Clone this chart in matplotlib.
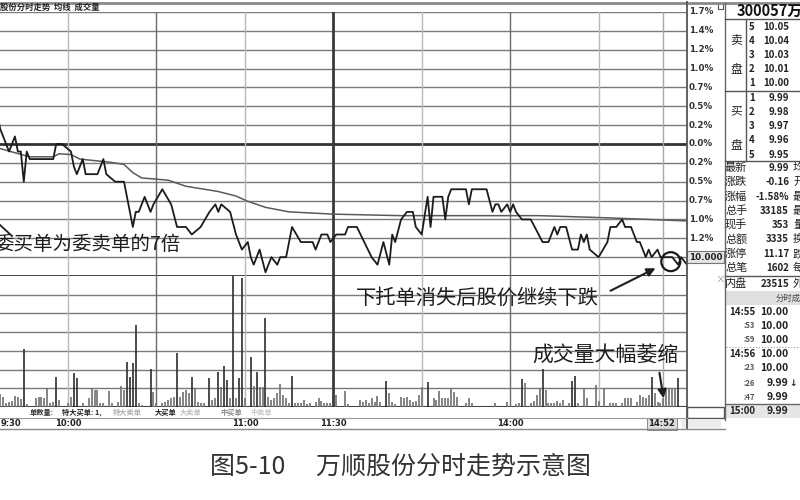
import matplotlib
matplotlib.use('Agg')
import matplotlib.pyplot as plt
from matplotlib.patches import Ellipse, Rectangle, FancyArrowPatch
from matplotlib.lines import Line2D
import matplotlib.transforms as mtrans

plt.rcParams['font.family'] = ['Noto Sans CJK SC', 'DejaVu Sans']

# ---------------- data ----------------
prev_close = 10.15
grid_step = 0.025
pct_labels = ["1.7%", "1.4%", "1.2%", "1.0%", "0.7%", "0.5%", "0.2%",
              "0.0%", "0.2%", "0.5%", "0.7%", "1.0%", "1.2%"]
base_label = "10.000"

time_tick_min = [0, 30, 90, 120, 180]
time_tick_lab = ["9:30", "10:00", "11:00", "11:30", "14:00"]
cursor_min = 232
cursor_lab = "14:52"

price_min = [6, 7, 9, 10, 12, 13, 14, 15, 16, 17, 25, 26, 28, 31, 32, 33, 35, 36, 40, 42,
             43, 46, 49, 50, 52, 53, 54, 56, 58, 59, 62, 65, 67, 70, 72, 75, 78, 80, 81, 82,
             85, 87, 89, 91, 92, 93, 95, 97, 99, 101, 102, 104, 106, 109, 113, 114, 116, 118, 119, 121,
             124, 125, 128, 133, 135, 137, 139, 140, 141, 143, 145, 147, 148, 150, 152, 153, 154, 157, 158, 159,
             160, 163, 165, 166, 167, 172, 174, 175, 176, 177, 179, 180, 181, 182, 184, 187, 191, 193, 195, 196,
             197, 199, 201, 203, 204, 205, 206, 207, 210, 213, 214, 216, 218, 219, 221, 223, 224, 226, 227, 228,
             230, 231, 235, 237, 238, 240]
price_val = [10.19, 10.17, 10.15, 10.14, 10.16, 10.14, 10.14, 10.10, 10.14, 10.13, 10.13, 10.15, 10.15, 10.14, 10.12, 10.11, 10.13, 10.11, 10.11, 10.13,
             10.11, 10.10, 10.10, 10.08, 10.04, 10.06, 10.06, 10.08, 10.06, 10.07, 10.09, 10.07, 10.04, 10.04, 10.03, 10.04, 10.06, 10.07, 10.06, 10.07,
             10.06, 10.03, 10.01, 10.02, 10.00, 9.99, 10.01, 9.98, 10.00, 9.99, 10.00, 10.00, 10.04, 10.02, 10.02, 10.01, 10.03, 10.03, 10.02, 10.03,
             10.03, 10.04, 10.04, 10.00, 9.99, 10.02, 9.99, 10.03, 10.02, 10.05, 10.06, 10.06, 10.04, 10.03, 10.08, 10.04, 10.08, 10.08, 10.05, 10.08,
             10.09, 10.09, 10.09, 10.07, 10.09, 10.09, 10.06, 10.07, 10.07, 10.06, 10.07, 10.06, 10.07, 10.06, 10.05, 10.05, 10.02, 10.02, 10.04, 10.03,
             10.04, 10.04, 10.01, 10.01, 10.03, 10.02, 10.03, 10.01, 10.00, 10.02, 10.04, 10.04, 10.05, 10.04, 10.04, 10.02, 10.02, 10.00, 10.01, 10.00,
             10.01, 10.00, 10.00, 9.99, 10.00, 9.99]

avg_min = [6, 17, 25, 27, 31, 34, 44, 49, 52, 55, 64, 70, 81, 87, 91, 97, 105, 120, 143, 163, 190, 214, 240]
avg_val = [10.145, 10.133, 10.133, 10.137, 10.136, 10.130, 10.126, 10.123, 10.112, 10.105, 10.102, 10.094,
           10.087, 10.081, 10.074, 10.066, 10.060, 10.057, 10.055, 10.055, 10.055, 10.052, 10.048]

vol_min = [7, 8, 9, 10, 11, 12, 13, 14, 15, 16, 19, 20, 21, 22, 23, 24, 25, 26, 27, 30,
           31, 32, 33, 35, 37, 38, 39, 40, 41, 42, 44, 45, 47, 48, 49, 50, 51, 52, 53, 54,
           55, 58, 59, 60, 62, 63, 64, 65, 66, 67, 68, 69, 70, 71, 72, 73, 74, 75, 76, 78,
           79, 80, 81, 82, 83, 84, 85, 86, 87, 88, 89, 90, 92, 93, 94, 95, 96, 97, 98, 99,
           100, 101, 102, 103, 104, 105, 106, 107, 108, 109, 110, 111, 112, 114, 115, 116, 117, 118, 119, 121,
           124, 125, 129, 130, 131, 132, 133, 134, 135, 136, 138, 139, 140, 141, 143, 144, 145, 146, 147, 148,
           149, 150, 152, 154, 155, 156, 157, 158, 159, 160, 161, 162, 165, 166, 167, 175, 179, 182, 183, 184,
           185, 187, 188, 189, 190, 191, 192, 193, 194, 195, 196, 197, 198, 200, 201, 202, 203, 205, 206, 209,
           210, 212, 214, 215, 216, 218, 219, 220, 221, 223, 224, 225, 226, 227, 228, 229, 230, 231, 232, 233,
           234, 235, 236, 237]
vol_val = [130, 100, 40, 50, 60, 110, 100, 80, 580, 30, 87, 97, 103, 87, 187, 37, 53, 303, 70, 43,
           103, 343, 287, 37, 93, 187, 170, 170, 43, 37, 160, 43, 53, 207, 173, 450, 303, 443, 820, 37,
           20, 380, 150, 37, 37, 53, 70, 87, 103, 537, 103, 153, 170, 140, 303, 187, 53, 43, 37, 287,
           70, 87, 353, 203, 413, 270, 87, 1310, 87, 287, 1287, 87, 497, 210, 353, 203, 203, 887, 103, 70,
           87, 137, 230, 120, 87, 37, 310, 37, 37, 37, 70, 30, 37, 53, 87, 63, 43, 43, 37, 120,
           160, 30, 70, 53, 70, 43, 87, 53, 110, 53, 257, 137, 53, 30, 103, 87, 103, 70, 53, 60,
           120, 203, 253, 87, 70, 160, 87, 87, 87, 187, 153, 103, 37, 87, 43, 37, 53, 30, 37, 277,
           237, 37, 63, 120, 187, 377, 170, 43, 37, 43, 63, 37, 70, 37, 263, 310, 37, 187, 87, 220,
           63, 187, 37, 37, 37, 43, 87, 87, 87, 53, 120, 103, 87, 120, 303, 137, 53, 43, 87, 187,
           187, 187, 187, 287]
vol_top = 1310

ask_levels = ["5", "4", "3", "2", "1"]
ask_prices = ["10.05", "10.04", "10.03", "10.01", "10.00"]
bid_levels = ["1", "2", "3", "4", "5"]
bid_prices = ["9.99", "9.98", "9.97", "9.96", "9.95"]
stat_names = ["最新", "涨跌", "涨幅", "总手", "现手", "总额", "涨停", "总笔"]
stat_vals = ["9.99", "-0.16", "-1.58%", "33185", "353", "3335", "11.17", "1602"]
stat_cut = ["均", "开", "最", "最", "量", "换", "跌", "每"]
trade_times = ["14:55", ":53", ":59", "14:56", ":23", ":26", ":47", "15:00"]
trade_prices = ["10.00", "10.00", "10.00", "10.00", "10.00", "9.99", "9.99", "9.99"]
trade_marks = ["", "", "", "", "", "↓", "", ""]

# ---------------- layout helpers ----------------
W, H = 800, 500
fig = plt.figure(figsize=(8, 5), dpi=100)
fig.patch.set_facecolor('white')


def rect(x0, y0, x1, y1):
    return [x0 / W, 1 - y1 / H, (x1 - x0) / W, (y1 - y0) / H]


def fx(x):
    return x / W


def fy(y):
    return 1 - y / H


def hline(y, x0, x1, color='#777777', lw=1.0, ls='-'):
    fig.add_artist(Line2D([fx(x0), fx(x1)], [fy(y), fy(y)], color=color, lw=lw, ls=ls))


def vline(x, y0, y1, color='#777777', lw=1.0):
    fig.add_artist(Line2D([fx(x), fx(x)], [fy(y0), fy(y1)], color=color, lw=lw))


CHART_R = 687
x_left = 30 - 68 / 2.948   # minute at the left edge of the cropped picture

vgrid = [(30, '#b8b8b8', 1.0), (60, '#6a6a6a', 1.0), (90, '#b8b8b8', 1.0),
         (120, '#3a3a3a', 2.0), (150, '#b8b8b8', 1.0), (180, '#6a6a6a', 1.0),
         (210, '#b8b8b8', 1.0), (cursor_min, '#a8a8a8', 1.0)]

# ---------------- price axes ----------------
ax = fig.add_axes(rect(0, 12, CHART_R, 276))
ax.set_xlim(x_left, 240)
ax.set_ylim(prev_close - 7 * grid_step, prev_close + 7 * grid_step)
ax.axis('off')
for k in range(-7, 8):
    yv = prev_close + k * grid_step
    if k == 0 or k == -7:
        ax.axhline(yv, color='#333333', lw=2.0, zorder=1)
    else:
        ax.axhline(yv, color='#7a7a7a', lw=1.0, zorder=1)
for m, c, lw in vgrid:
    ax.axvline(m, color=c, lw=lw, zorder=1)
ax.plot(avg_min, avg_val, color='#5a5a5a', lw=1.1, zorder=3)
ax.plot(price_min, price_val, color='#1c1c1c', lw=1.3, zorder=4)

ytr = ax.get_yaxis_transform()
off = mtrans.offset_copy(ytr, fig=fig, x=2, y=0, units='dots')
for i, lab in enumerate(pct_labels):
    k = 7 - i
    ax.text(1.0, prev_close + k * grid_step, lab, transform=off, ha='left', va='center',
            fontsize=6.3, fontweight='bold', color='#333333', family='DejaVu Sans', clip_on=False)
ax.text(1.0, prev_close - 6 * grid_step, base_label, transform=off, ha='left', va='center',
        fontsize=6.3, fontweight='bold', color='#222222', family='DejaVu Sans', clip_on=False,
        bbox=dict(boxstyle='square,pad=0.2', fc='#e4e4e4', ec='#777777', lw=0.8))

# circle round the closing price
px_per_min = CHART_R / (240 - x_left)
px_per_price = 264 / (14 * grid_step)
ax.add_patch(Ellipse((price_min[-4] - 0.5, price_val[-4] - 0.006), 19 / px_per_min, 19 / px_per_price,
                     fill=False, ec='#1a1a1a', lw=1.6, zorder=6))

# ---------------- volume axes ----------------
axv = fig.add_axes(rect(0, 276, CHART_R, 407))
axv.set_xlim(x_left, 240)
axv.set_ylim(0, vol_top)
axv.axis('off')
for i in range(1, 7):
    axv.axhline(vol_top * i / 7, color='#7a7a7a', lw=1.0, zorder=1)
axv.axhline(0, color='#444444', lw=1.5, zorder=1)
for m, c, lw in vgrid:
    axv.axvline(m, color=c, lw=lw, zorder=1)
bar_cols = ['#2e2e2e' if v >= 250 else '#707070' for v in vol_val]
axv.vlines(vol_min, 0, vol_val, colors=bar_cols, lw=1.2, zorder=3)

# ---------------- frame lines ----------------
hline(2.5, 0, 800, color='#8a8a8a', lw=2.0)
vline(CHART_R, 2, 429, color='#555555', lw=1.3)
hline(418, 0, CHART_R, color='#999999', lw=0.8)
hline(429, 0, 725, color='#888888', lw=1.0)
vline(725, 3, 420, color='#666666', lw=1.0)
fig.add_artist(Rectangle((fx(687), fy(418)), (724 - 687) / W, 11 / H, fc='white', ec='#555555', lw=1.0))
fig.add_artist(Rectangle((fx(718), fy(9)), 5 / W, 6 / H, fc='white', ec='#555555', lw=0.8))

# header text
fig.text(fx(0), fy(7.5), "股份分时走势  均线  成交量", fontsize=6, fontweight='bold',
         color='#222222', ha='left', va='center')

# order-size legend strip
strip = [("单数量:", '#333333', 30), ("特大买单: 1,", '#222222', 62), ("特大卖单", '#b0b0b0', 113),
         ("大买单", '#222222', 155), ("大卖单", '#c0c0c0', 180), ("中买单", '#888888', 220),
         ("中卖单", '#c8c8c8', 250)]
for s, c, x in strip:
    fig.text(fx(x), fy(412.5), s, fontsize=5.2, fontweight='bold', color=c, ha='left', va='center')

# time labels
ttr = mtrans.blended_transform_factory(ax.transData, fig.transFigure)
for i, (m, lab) in enumerate(zip(time_tick_min, time_tick_lab)):
    if i == 0:
        fig.text(fx(0.5), fy(424), lab, fontsize=6, fontweight='bold', color='#222222',
                 ha='left', va='center', family='DejaVu Sans')
    else:
        ax.text(m, fy(424), lab, transform=ttr, fontsize=6, fontweight='bold', color='#222222',
                ha='center', va='center', family='DejaVu Sans', clip_on=False)
ax.text(cursor_min - 0.5, fy(424), cursor_lab, transform=ttr, fontsize=6, fontweight='bold',
        color='#222222', ha='center', va='center', family='DejaVu Sans', clip_on=False,
        bbox=dict(boxstyle='square,pad=0.15', fc='#dddddd', ec='#888888', lw=0.7))
fig.add_artist(Rectangle((fx(681), fy(428)), 40 / W, 9 / H, fc='#ececec', ec='none'))

# ---------------- right panel ----------------
fs = 7
fig.text(fx(737), fy(11), "300057万顺", fontsize=10.5, fontweight='bold', color='#111111',
         ha='left', va='center')
hline(19, 725, 800, color='#555555', lw=1.0)
hline(91, 725, 800, color='#555555', lw=1.0)
hline(161, 725, 800, color='#555555', lw=1.0)
vline(746, 19, 161, color='#555555', lw=1.0)
ask_y = [27, 41, 55, 69, 83]
bid_y = [98, 112, 126, 140, 155]
for lv, p, y in zip(ask_levels, ask_prices, ask_y):
    fig.text(fx(749), fy(y), lv, fontsize=fs, fontweight='bold', color='#222222', ha='left', va='center')
    fig.text(fx(789), fy(y), p, fontsize=fs, fontweight='bold', color='#222222', ha='right', va='center')
for lv, p, y in zip(bid_levels, bid_prices, bid_y):
    fig.text(fx(749), fy(y), lv, fontsize=fs, fontweight='bold', color='#222222', ha='left', va='center')
    fig.text(fx(789), fy(y), p, fontsize=fs, fontweight='bold', color='#222222', ha='right', va='center')
for s, y in [("卖", 40), ("盘", 70), ("买", 111), ("盘", 146)]:
    fig.text(fx(736), fy(y), s, fontsize=8.5, color='#222222', ha='center', va='center')

stat_y = [168, 182, 197, 211, 225, 239, 254, 268]
for n, v, c, y in zip(stat_names, stat_vals, stat_cut, stat_y):
    fig.text(fx(725), fy(y), n, fontsize=8, color='#222222', ha='left', va='center')
    fig.text(fx(789), fy(y), v, fontsize=fs, fontweight='bold', color='#222222', ha='right', va='center')
    fig.text(fx(793), fy(y), c, fontsize=8, color='#222222', ha='left', va='center')
hline(276, 725, 800, color='#555555', lw=1.0)
fig.text(fx(725), fy(284), "内盘", fontsize=8, color='#222222', ha='left', va='center')
fig.text(fx(789), fy(284), "23515", fontsize=fs, fontweight='bold', color='#222222', ha='right', va='center')
fig.text(fx(793), fy(284), "外", fontsize=8, color='#222222', ha='left', va='center')
fig.text(fx(720), fy(280), "×", fontsize=7, color='#999999', ha='center', va='center')
fig.add_artist(Rectangle((fx(726), fy(305)), 74 / W, 14 / H, fc='#e0e0e0', ec='none'))
fig.text(fx(776), fy(298), "分时成交", fontsize=6, color='#444444', ha='left', va='center')
trade_y = [312, 326, 340, 354, 368, 383, 397, 411]
fig.add_artist(Rectangle((fx(726), fy(418)), 74 / W, 14 / H, fc='#e6e6e6', ec='none'))
hline(347, 726, 800, color='#999999', lw=0.8, ls=':')
hline(404, 726, 800, color='#666666', lw=1.0)
for t, p, mk, y in zip(trade_times, trade_prices, trade_marks, trade_y):
    small = t.startswith(':')
    fig.text(fx(755), fy(y), t, fontsize=5.5 if small else 7, fontweight='bold',
             color='#555555' if small else '#222222', ha='right', va='center')
    fig.text(fx(788), fy(y), p, fontsize=7.5, fontweight='bold', color='#222222', ha='right', va='center')
    if mk:
        fig.text(fx(789), fy(y), mk, fontsize=6.5, fontweight='bold', color='#222222', ha='left',
                 va='center', family='DejaVu Sans')

# ---------------- annotations ----------------
fig.text(fx(-6), fy(244), "委买单为委卖单的7倍", fontsize=14, color='#1e1e1e', ha='left', va='center')
fig.add_artist(Line2D([fx(0), fx(12)], [fy(225), fy(236)], color='#1e1e1e', lw=1.3))
fig.text(fx(356), fy(298), "下托单消失后股价继续下跌", fontsize=14.6, color='#1e1e1e', ha='left', va='center')
fig.text(fx(532), fy(355), "成交量大幅萎缩", fontsize=15, color='#1e1e1e', ha='left', va='center')
fig.add_artist(FancyArrowPatch((fx(608), fy(292)), (fx(658), fy(267)), transform=fig.transFigure,
                               arrowstyle='-|>,head_length=5,head_width=2.5', color='#1e1e1e', lw=1.5))
fig.add_artist(FancyArrowPatch((fx(659), fy(370)), (fx(664), fy(401)), transform=fig.transFigure,
                               arrowstyle='-|>,head_length=5,head_width=2.5', color='#1e1e1e', lw=1.5))

# caption
fig.text(fx(400), fy(467), "图5-10\u3000 万顺股份分时走势示意图", fontsize=18, color='#333333',
         ha='center', va='center')

fig.savefig('out.png', dpi=100)
